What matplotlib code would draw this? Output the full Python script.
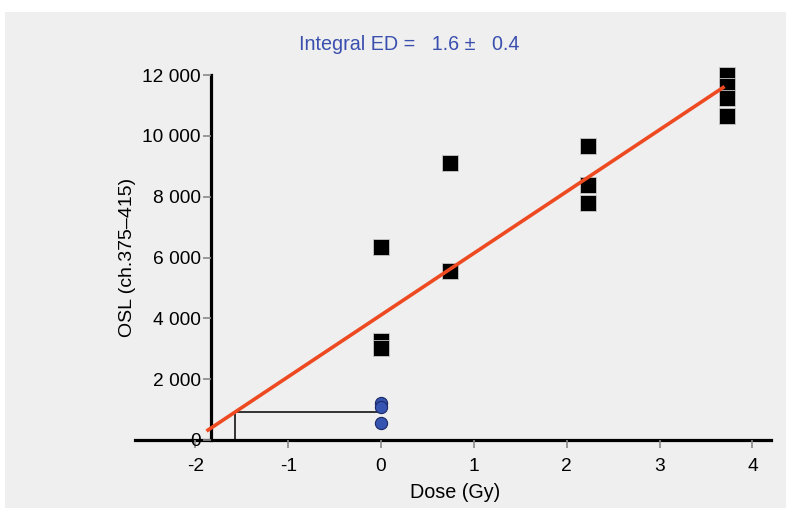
import matplotlib
matplotlib.use("Agg")
import matplotlib.pyplot as plt
from matplotlib.patches import Rectangle
from matplotlib.ticker import FuncFormatter
import numpy as np

plt.rcParams['font.family'] = ['Liberation Sans', 'DejaVu Sans']

# Regenerated (dose) points
dose_regen = [0, 0, 0, 0.745, 0.745, 2.228, 2.228, 2.228, 3.727, 3.727, 3.727, 3.727]
osl_regen = [6330, 3260, 3020, 9100, 5540, 9650, 8390, 7790, 12000, 11630, 11260, 10660]

# Natural points
dose_nat = [0, 0, 0]
osl_nat = [1230, 1095, 570]

# Linear fit parameters
fit_intercept = 4110
fit_slope = 2030
fit_range = [-1.88, 3.70]
natural_level = 910

x_ticks = [-2, -1, 0, 1, 2, 3, 4]
y_ticks = [0, 2000, 4000, 6000, 8000, 10000, 12000]

title_text = "Integral ED =   1.6 \u00b1   0.4"
x_label = "Dose (Gy)"
y_label = "OSL (ch.375\u2013415)"

W, H = 786, 517
fig = plt.figure(figsize=(W / 100, H / 100), dpi=100)
fig.patch.set_facecolor('white')
fig.patches.append(Rectangle((5 / W, (H - 508) / H), (W - 5) / W, (508 - 12) / H,
                             transform=fig.transFigure, facecolor='#efefef',
                             edgecolor='none', zorder=-10))

ax = fig.add_axes([135 / W, (H - 440) / H, (771 - 135) / W, (440 - 75) / H])
ax.set_facecolor('none')
ax.set_xlim(-2.65, 4.20)
ax.set_ylim(0, 12000)

for s in ['top', 'right']:
    ax.spines[s].set_visible(False)
ax.spines['left'].set_position(('data', -1.835))
ax.spines['left'].set_linewidth(2.3)
ax.spines['bottom'].set_linewidth(2.3)
ax.spines['left'].set_zorder(1)
ax.spines['bottom'].set_zorder(1)

ax.set_xticks(x_ticks)
ax.set_yticks(y_ticks)
ax.yaxis.set_major_formatter(FuncFormatter(lambda v, p: f"{int(v):,}".replace(",", " ")))
ax.xaxis.set_major_formatter(FuncFormatter(lambda v, p: f"{int(v)}"))
ax.tick_params(axis='both', colors='#8a8a8a', labelcolor='black', labelsize=13.8,
               width=1.2)
ax.tick_params(axis='x', length=6, pad=7)
ax.tick_params(axis='y', length=6, pad=1)

# ED construction lines
ed = (natural_level - fit_intercept) / fit_slope
ax.plot([ed, 0], [natural_level, natural_level], color='black', lw=1.1, zorder=2)
ax.plot([ed, ed], [0, natural_level], color='black', lw=1.1, zorder=2)

# Regenerated points
ax.plot(dose_regen, osl_regen, linestyle='none', marker='s', markersize=12.2,
        markerfacecolor='black', markeredgecolor='#c8c8c8', markeredgewidth=0.6,
        zorder=3, clip_on=False)

# Fit line
fx = np.array(fit_range)
ax.plot(fx, fit_intercept + fit_slope * fx, color='#ee4a22', lw=2.6, zorder=4,
        solid_capstyle='butt', clip_on=False)

# Natural points
ax.plot(dose_nat, osl_nat, linestyle='none', marker='o', markersize=8.8,
        markerfacecolor='#3553b0', markeredgecolor='#1c2a66', markeredgewidth=0.8,
        zorder=5, clip_on=False)

ax.set_xlabel(x_label, fontsize=14.2)
ax.set_ylabel(y_label, fontsize=14)
ax.yaxis.set_label_coords((128 - 135) / (771 - 135), 0.5)
ax.xaxis.set_label_coords((455 - 135) / (771 - 135), -(493 - 440) / (440 - 75))
ax.xaxis.label.set_va('center')
ax.yaxis.label.set_va('center')

fig.text(409 / W, 1 - 45 / H, title_text, color='#3a4fae', fontsize=14.2,
         ha='center', va='center')

fig.savefig('out.png', dpi=100, facecolor=fig.get_facecolor())
